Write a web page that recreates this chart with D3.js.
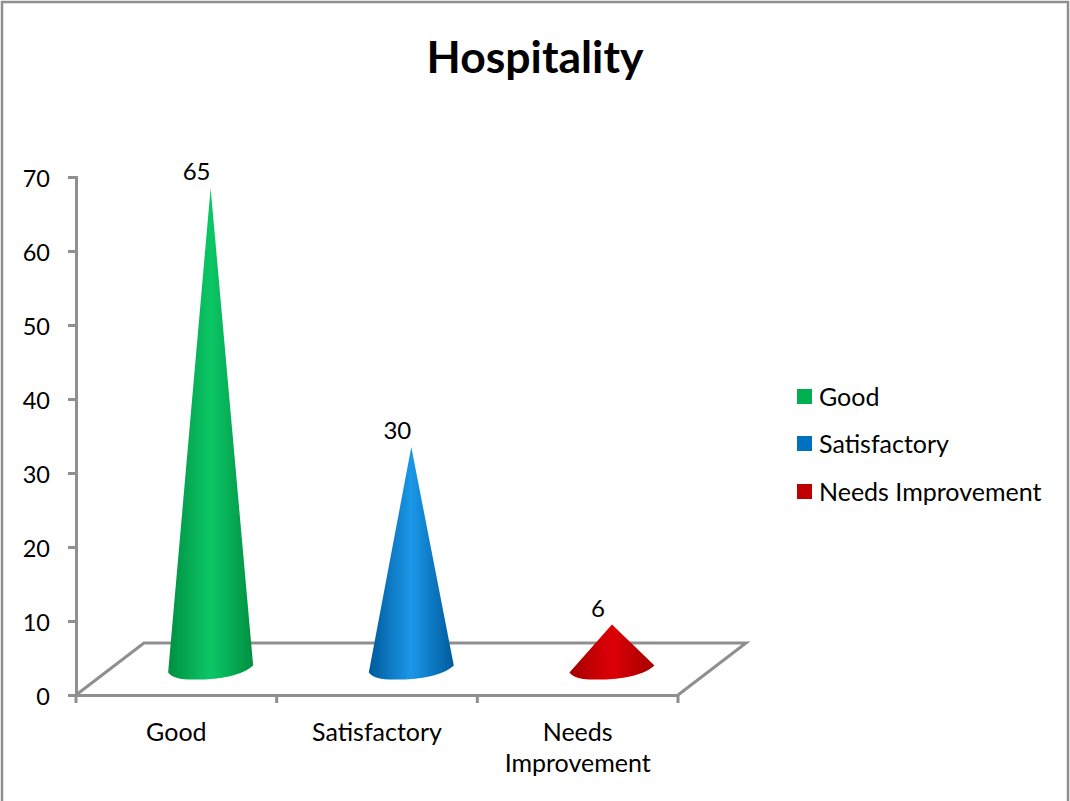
<!DOCTYPE html>
<html><head><meta charset="utf-8">
<script src="https://cdn.jsdelivr.net/npm/d3@7"></script>
<style>html,body{margin:0;padding:0;background:#fff}svg{display:block}text{font-family:Lato,"Open Sans",sans-serif;fill:#000}</style>
</head><body><div id="c"></div>
<script>
const categories = ["Good","Satisfactory","Needs Improvement"];
const values = [65,30,6];
const yTicks = [0,10,20,30,40,50,60,70];
const axisLabelLines = [["Good"],["Satisfactory"],["Needs","Improvement"]];
const edgeColors = ["#008f42","#005a9c","#a30000"];
const midColors = ["#0cc766","#1a97e8","#dd0006"];
const legendColors = ["#00b050","#0070c0","#c00000"];

const W=1070,H=801;
const svg=d3.select("#c").append("svg").attr("width",W).attr("height",H);
const x=d3.scaleBand().domain(categories).range([76,678]);
const y=d3.scaleLinear().domain([0,70]).range([695,177]);
const depthX=68,depthY=52,gray="#8f8f8f",fs=25;

svg.append("rect").attr("x",2).attr("y",2).attr("width",W-4).attr("height",H+10)
  .attr("fill","#fff").attr("stroke",gray).attr("stroke-width",2.5);

svg.append("text").attr("x",535).attr("y",73).attr("text-anchor","middle")
  .attr("font-size",44.5).attr("font-weight",700).text("Hospitality");

const defs=svg.append("defs");
categories.forEach((c,i)=>{
  const g=defs.append("linearGradient").attr("id","g"+i);
  g.append("stop").attr("offset","0%").attr("stop-color",edgeColors[i]);
  g.append("stop").attr("offset","50%").attr("stop-color",midColors[i]);
  g.append("stop").attr("offset","100%").attr("stop-color",edgeColors[i]);
});

// floor
svg.append("path").attr("fill","none").attr("stroke",gray).attr("stroke-width",3)
 .attr("d",d3.line()([[x.range()[0],y(0)],[x.range()[0]+depthX,y(0)-depthY],[x.range()[1]+depthX,y(0)-depthY],[x.range()[1],y(0)]]));

// axes
const yAxis=d3.axisLeft(y).tickValues(yTicks).tickSize(8).tickPadding(18);
const gy=svg.append("g").attr("transform","translate(76,0)").call(yAxis);
const xAxis=d3.axisBottom(x).tickValues([]).tickSizeOuter(0);
const gx=svg.append("g").attr("transform",`translate(0,${y(0)})`).call(xAxis);
gx.selectAll(".tick").remove();
gx.selectAll("line.sep").data(d3.range(categories.length+1)).enter().append("line").attr("class","sep")
 .attr("x1",i=>x.range()[0]+i*x.step()).attr("x2",i=>x.range()[0]+i*x.step()).attr("y1",0).attr("y2",8);
[gy,gx].forEach(g=>{g.selectAll("path.domain").attr("stroke",gray).attr("stroke-width",3);
 g.selectAll("line").attr("stroke",gray).attr("stroke-width",3);});
gy.selectAll("text").attr("font-size",23.5).attr("fill","#000").style("font-family","Lato").attr("dy","0.42em");

axisLabelLines.forEach((lines,i)=>{
  const t=svg.append("text").attr("text-anchor","middle").attr("font-size",fs);
  lines.forEach((l,j)=>t.append("tspan").attr("x",x(categories[i])+x.bandwidth()/2).attr("y",741+j*31).text(l));
});

// cones
const halfW=42.5;
categories.forEach((c,i)=>{
  const cx=x(c)+x.bandwidth()/2+depthX/2+0.3, baseY=y(0)-depthY/2, tipY=y(values[i])-depthY/2;
  const L=[cx-halfW,baseY+3.5],R=[cx+halfW,baseY-3.5];
  svg.append("path").attr("fill",`url(#g${i})`)
   .attr("d",`M${cx},${tipY}L${R[0]},${R[1]}C${R[0]-14},${baseY+10} ${cx-8},${baseY+11} ${cx-14},${baseY+10.5}C${cx-28},${baseY+11} ${L[0]+4},${baseY+9} ${L[0]},${L[1]}Z`);
  svg.append("text").attr("x",cx-14).attr("y",tipY-8).attr("text-anchor","middle").attr("font-size",24).text(values[i]);
});

// legend
const legendRowY=[397,444,492];
categories.forEach((c,i)=>{
  svg.append("rect").attr("x",797).attr("y",legendRowY[i]-8).attr("width",15).attr("height",15).attr("fill",legendColors[i]);
  svg.append("text").attr("x",819).attr("y",legendRowY[i]+8.5).attr("font-size",fs).text(c);
});
</script></body></html>
